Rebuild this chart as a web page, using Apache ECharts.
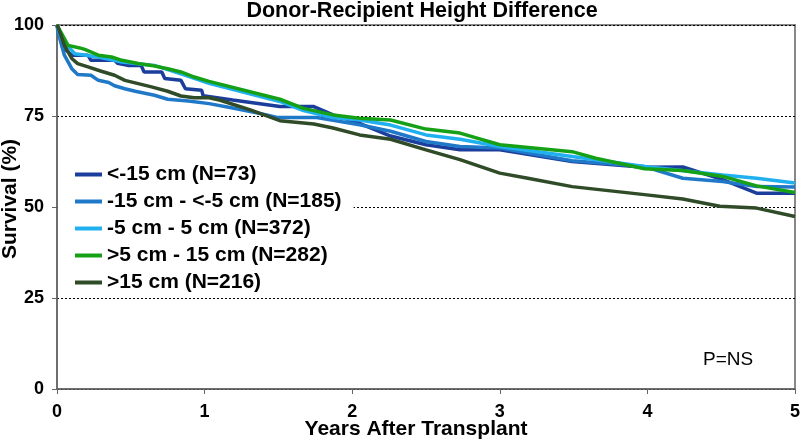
<!DOCTYPE html>
<html>
<head>
<meta charset="utf-8">
<script src="https://cdn.jsdelivr.net/npm/echarts@6/dist/echarts.min.js"></script>
<style>html,body{margin:0;padding:0;background:#fff}#c{width:800px;height:441px}</style>
</head>
<body>
<div id="c"></div>
<script>
const seriesNames = ['<-15 cm (N=73)', '-15 cm - <-5 cm (N=185)', '-5 cm - 5 cm (N=372)', '>5 cm - 15 cm (N=282)', '>15 cm (N=216)'];
const seriesColors = ['#1b3d9b', '#1f78c8', '#20b0f0', '#16a016', '#2f4b27'];
const xTicks = [0, 1, 2, 3, 4, 5];
const yTicks = [0, 25, 50, 75, 100];

const ltMinus15 = [[0,100],[0.01,98.5],[0.05,93.5],[0.1,91.7],[0.21,91.7],[0.23,90.3],[0.39,90.3],[0.41,89.5],[0.48,88.9],[0.57,88.9],[0.59,87.1],[0.71,87.1],[0.73,85.3],[0.84,84.8],[0.87,82.5],[0.98,82.1],[0.99,80.6],[1.19,79.4],[1.51,77.6],[1.74,77.6],[1.87,75.3],[2.05,73],[2.26,69.5],[2.5,67.1],[2.73,65.7],[3.0,65.7],[3.49,62.5],[3.98,60.9],[4.24,61.0],[4.51,57.5],[4.74,53.8],[5,53.8]];
const minus15to5 = [[0,100],[0.007,98],[0.05,91.7],[0.1,88],[0.14,86.4],[0.23,86.2],[0.28,84.8],[0.35,84.2],[0.39,83.3],[0.46,82.5],[0.53,81.8],[0.66,80.7],[0.75,79.6],[0.89,79.1],[1.03,78.4],[1.19,77.2],[1.42,75.3],[1.49,74.6],[1.76,74.6],[2.05,72.6],[2.26,70.8],[2.5,68],[2.73,66.6],[3,66.2],[3.49,62.7],[3.98,61.1],[4.24,57.9],[4.51,57],[4.74,55.6],[5,55.5]];
const minus5to5 = [[0,100],[0.03,96.2],[0.12,92.1],[0.28,91.2],[0.44,89.8],[0.66,88.9],[0.84,86.6],[1.03,84],[1.51,79],[1.67,76.5],[1.87,74.6],[2.05,73.9],[2.26,72.5],[2.5,69.8],[2.73,68.6],[3,66.6],[3.49,63.9],[3.65,63],[3.98,61.1],[4.51,58.8],[4.74,57.9],[5,56.6]];
const plus5to15 = [[0,100],[0.075,94.4],[0.154,93.7],[0.188,93.3],[0.28,91.7],[0.37,91.2],[0.44,90.3],[0.55,89.4],[0.64,88.9],[0.75,88],[0.84,87.1],[0.93,85.7],[1.03,84.5],[1.51,79.6],[1.67,77.1],[1.87,75.3],[2.05,74.4],[2.26,73.9],[2.5,71.4],[2.73,70.3],[3.0,67.1],[3.49,65.2],[3.65,63.4],[3.98,60.5],[4.24,60],[4.51,58.4],[4.74,55.8],[5,54]];
const gt15 = [[0,100],[0.007,99.4],[0.05,94.4],[0.1,90.8],[0.14,89.4],[0.21,88.5],[0.3,87.3],[0.39,86.2],[0.46,84.8],[0.55,83.9],[0.64,83],[0.75,81.8],[0.84,80.5],[0.93,80],[1.03,80],[1.1,79.4],[1.31,76.7],[1.51,73.7],[1.74,72.8],[1.87,71.7],[2.05,69.8],[2.26,68.6],[2.5,65.7],[2.73,63],[3,59.3],[3.19,57.9],[3.49,55.6],[3.98,53.4],[4.24,52.2],[4.49,50.2],[4.74,49.7],[5,47.4]];
const seriesData = [ltMinus15, minus15to5, minus5to5, plus5to15, gt15];

const FONT = 'Liberation Sans, Arial, sans-serif';
const chart = echarts.init(document.getElementById('c'));
chart.setOption({
  animation: false,
  backgroundColor: '#fff',
  title: {
    text: 'Donor-Recipient Height Difference',
    left: 417, top: -5, textAlign: 'center',
    textStyle: { fontFamily: FONT, fontWeight: 'bold', fontSize: 21.5, color: '#000' }
  },
  grid: { left: 57, right: 5, top: 25, bottom: 52, containLabel: false, outerBoundsMode: 'none', show: true, borderColor: '#888', borderWidth: 2, backgroundColor: 'transparent' },
  legend: {
    orient: 'vertical', left: 58, top: 160,
    backgroundColor: '#fff', padding: [4, 12, 4, 17],
    itemWidth: 27, itemHeight: 4, itemGap: 6, itemTextGap: 1,
    icon: 'rect',
    textStyle: { fontFamily: FONT, fontWeight: 'bold', fontSize: 21, color: '#000', lineHeight: 21 },
    data: seriesNames
  },
  xAxis: {
    type: 'value', min: 0, max: 5, interval: 1,
    axisLine: { lineStyle: { color: '#666', width: 1.5 } },
    axisTick: { show: true, length: 5, inside: false, lineStyle: { color: '#666' } },
    axisLabel: { fontFamily: FONT, fontWeight: 'bold', fontSize: 18, color: '#000', margin: 14, formatter: v => xTicks.includes(v) ? String(v) : '' },
    splitLine: { show: false }
  },
  yAxis: {
    type: 'value', min: 0, max: 100, interval: 25,
    axisLine: { show: true, lineStyle: { color: '#666', width: 1.5 } },
    axisTick: { show: true, length: 5, lineStyle: { color: '#666' } },
    axisLabel: { fontFamily: FONT, fontWeight: 'bold', fontSize: 18, color: '#000', margin: 13, formatter: v => yTicks.includes(v) ? String(v) : '' },
    splitLine: { show: true, lineStyle: { color: '#000', width: 1, type: [2, 2] } }
  },
  graphic: [{
    type: 'text', x: 10, y: 199, rotation: Math.PI / 2,
    style: { text: 'Survival (%)', font: 'bold 21px ' + FONT, fill: '#000', textAlign: 'center', textVerticalAlign: 'middle' }
  }, {
    type: 'text', x: 416, y: 429,
    style: { text: 'Years After Transplant', font: 'bold 21px ' + FONT, fill: '#000', textAlign: 'center', textVerticalAlign: 'middle' }
  }, {
    type: 'text', left: 703, top: 350,
    style: { text: 'P=NS', font: '19px ' + FONT, fill: '#000' }
  }],
  series: seriesNames.map((n, i) => ({
    name: n, type: 'line', data: seriesData[i], symbol: 'none',
    lineStyle: { width: 3.5, color: seriesColors[i] },
    itemStyle: { color: seriesColors[i] },
    z: 2 + i
  }))
});
</script>
</body>
</html>
